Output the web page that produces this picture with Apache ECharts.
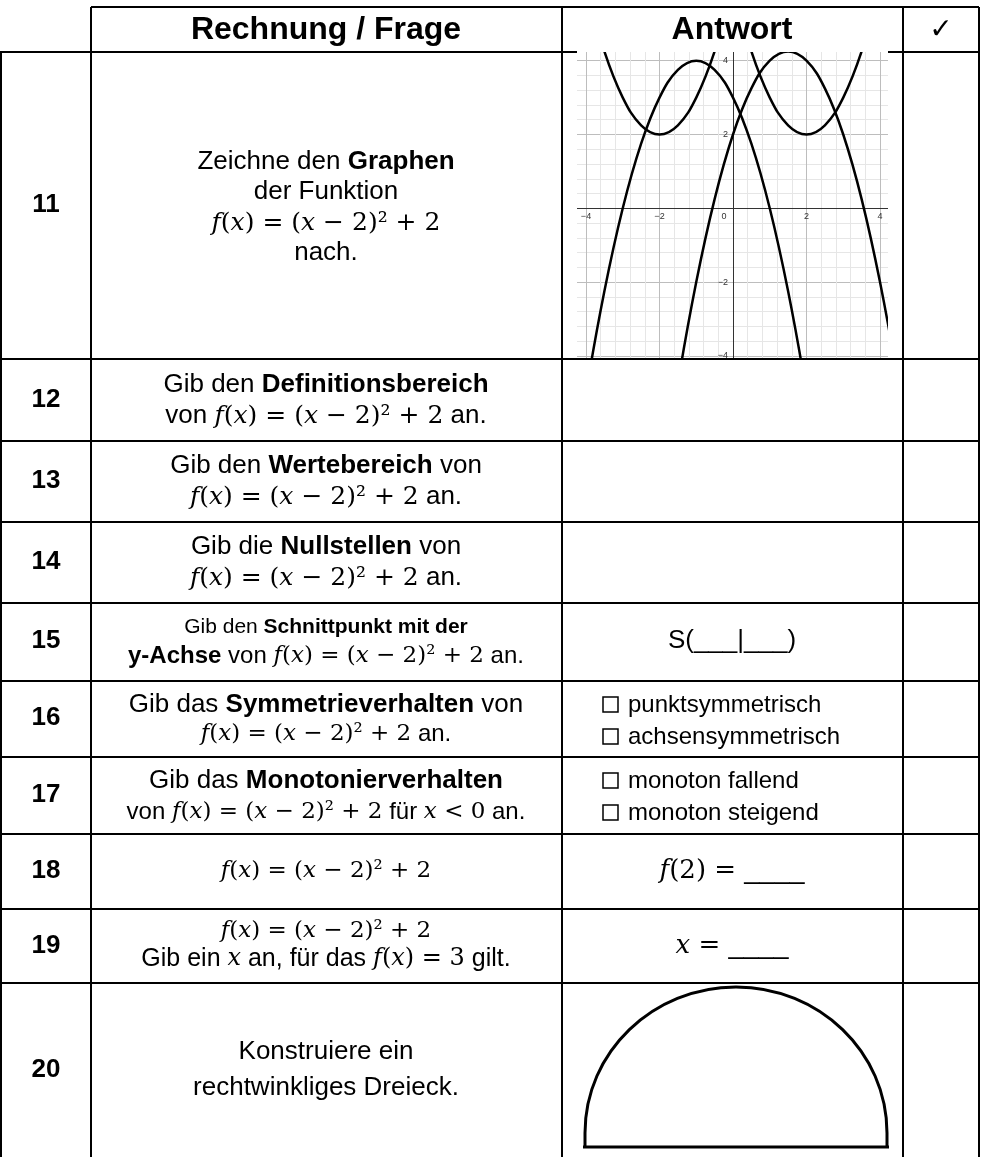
<!DOCTYPE html>
<html>
<head>
<meta charset="utf-8">
<script src="https://cdn.jsdelivr.net/npm/echarts@6/dist/echarts.min.js"></script>
<style>
html, body { margin: 0; padding: 0; background: #fff; }
#main { width: 986px; height: 1157px; }
</style>
</head>
<body>
<div id="main"></div>
<script>
// parabolas drawn in the answer cell of task 11
const xA = [-4, -3.5, -3, -2.5, -2, -1.5, -1, -0.5, 0]
const yA = [6, 4.25, 3, 2.25, 2, 2.25, 3, 4.25, 6]
const xB = [0, 0.5, 1, 1.5, 2, 2.5, 3, 3.5, 4]
const yB = [6, 4.25, 3, 2.25, 2, 2.25, 3, 4.25, 6]
const xC = [-4.5, -4, -3.5, -3, -2.5, -2, -1.5, -1, -0.5, 0, 0.5, 1, 1.5, 2, 2.5]
const yC = [-8.25, -5, -2.25, 0, 1.75, 3, 3.75, 4, 3.75, 3, 1.75, 0, -2.25, -5, -8.25]
const xD = [-2, -1.5, -1, -0.5, 0, 0.5, 1, 1.5, 2, 2.5, 3, 3.5, 4, 4.5, 5]
const yD = [-8, -4.75, -2, 0.25, 2, 3.25, 4, 4.25, 4, 3.25, 2, 0.25, -2, -4.75, -8]
const xLabels = [-4, -2, 0, 2, 4]
const yLabels = [-4, -2, 2, 4]

const rowNums = ['11', '12', '13', '14', '15', '16', '17', '18', '19', '20']

const SANS = '"Liberation Sans", Arial, sans-serif'
const SERIF = '"DejaVu Serif", serif'

// table geometry
const colX = [1, 91, 562, 903, 979]
const rowY = [7, 52, 359, 441, 522, 603, 681, 757, 834, 909, 983, 1157]
const numY = [205, 400, 481, 562, 641, 718, 795, 871, 946, 1070]

const F = '{i|f}{m|(}{i|x}{m|) = (}{i|x}{m| \u2212 2)\u00b2 + 2}'

function txt(x, y, text, size, extra) {
  const ms = Math.round(size * 0.96)
  return Object.assign({
    type: 'text',
    x: x,
    y: y,
    z: 100,
    style: {
      text: text,
      fontSize: size,
      fontFamily: SANS,
      fill: '#000',
      align: 'center',
      verticalAlign: 'middle',
      rich: {
        b: { fontSize: size, fontFamily: SANS, fontWeight: 'bold', fill: '#000' },
        i: { fontSize: ms, fontFamily: SERIF, fontStyle: 'italic', fill: '#000' },
        m: { fontSize: ms, fontFamily: SERIF, fill: '#000' }
      }
    }
  }, extra || {})
}

function hline(x1, x2, y, w) {
  return { type: 'line', z: 110, shape: { x1: x1, y1: y, x2: x2, y2: y }, style: { stroke: '#000', lineWidth: w || 2 } }
}
function vline(x, y1, y2, w) {
  return { type: 'line', z: 110, shape: { x1: x, y1: y1, x2: x, y2: y2 }, style: { stroke: '#000', lineWidth: w || 2 } }
}
function mask(x, y, w, h) {
  return { type: 'rect', z: 90, shape: { x: x, y: y, width: w, height: h }, style: { fill: '#fff' } }
}
function box(x, y) {
  return { type: 'rect', z: 100, shape: { x: x, y: y, width: 15, height: 15 }, style: { fill: 'none', stroke: '#000', lineWidth: 1.5 } }
}

const elements = []

// masks: the plot only fills part of its cell
elements.push(mask(563, 40, 14, 334))
elements.push(mask(888, 40, 14, 334))
elements.push(mask(563, 40, 339, 12))
elements.push(mask(563, 359, 339, 15))

// table lines
elements.push(hline(colX[1], colX[4], rowY[0]))
elements.push(hline(0, 577, rowY[1]))
elements.push(hline(888, colX[4], rowY[1]))
for (let i = 2; i < rowY.length - 1; i++) elements.push(hline(0, colX[4], rowY[i]))
elements.push(vline(colX[0], rowY[1], rowY[11]))
for (let i = 1; i < colX.length; i++) elements.push(vline(colX[i], rowY[0], rowY[11]))

// header
elements.push(txt(326, 30, '{b|Rechnung / Frage}', 32))
elements.push(txt(732, 30, '{b|Antwort}', 32))
const check = txt(941, 31, '\u2713', 28)
check.style.fontFamily = '"DejaVu Sans", sans-serif'
elements.push(check)

// row numbers
rowNums.forEach(function (n, i) {
  elements.push(txt(46, numY[i], '{b|' + n + '}', 26))
})

// question column
const C = 326
elements.push(txt(C, 162, 'Zeichne den {b|Graphen}', 26))
elements.push(txt(C, 192, 'der Funktion', 26))
elements.push(txt(C, 223, F, 26))
elements.push(txt(C, 253, 'nach.', 26))

elements.push(txt(C, 385, 'Gib den {b|Definitionsbereich}', 26))
elements.push(txt(C, 416, 'von ' + F + ' an.', 26))
elements.push(txt(C, 466, 'Gib den {b|Wertebereich} von', 26))
elements.push(txt(C, 497, F + ' an.', 26))
elements.push(txt(C, 547, 'Gib die {b|Nullstellen} von', 26))
elements.push(txt(C, 578, F + ' an.', 26))

elements.push(txt(C, 627, 'Gib den {b|Schnittpunkt mit der}', 21))
elements.push(txt(C, 656, '{b|y-Achse} von ' + F + ' an.', 24))
elements.push(txt(C, 705, 'Gib das {b|Symmetrieverhalten} von', 26))
elements.push(txt(C, 734, F + ' an.', 24))
elements.push(txt(C, 781, 'Gib das {b|Monotonierverhalten}', 26))
elements.push(txt(C, 812, 'von ' + F + ' f\u00fcr {i|x}{m| < 0} an.', 24))

elements.push(txt(C, 871, F, 24))
elements.push(txt(C, 931, F, 24))
elements.push(txt(C, 959, 'Gib ein {i|x} an, f\u00fcr das {i|f}{m|(}{i|x}{m|) = 3} gilt.', 25))

elements.push(txt(C, 1052, 'Konstruiere ein', 26))
elements.push(txt(C, 1088, 'rechtwinkliges Dreieck.', 26))

// answer column
elements.push(txt(732, 641, 'S(___|___)', 26))
const opts = [['punktsymmetrisch', 705], ['achsensymmetrisch', 737], ['monoton fallend', 781], ['monoton steigend', 813]]
opts.forEach(function (o) {
  elements.push(box(603, o[1] - 8))
  const t = txt(628, o[1], o[0], 24)
  t.style.align = 'left'
  elements.push(t)
})
elements.push(txt(732, 871, '{i|f}{m|(2) = }____', 27))
elements.push(txt(732, 946, '{i|x}{m| = }____', 27))

// half-round shape in task 20
const sw = { stroke: '#000', lineWidth: 3, fill: 'none' }
elements.push({ type: 'bezierCurve', z: 100, shape: { x1: 585, y1: 1133, x2: 736, y2: 987, cpx1: 585, cpy1: 1052, cpx2: 653, cpy2: 987 }, style: sw })
elements.push({ type: 'bezierCurve', z: 100, shape: { x1: 736, y1: 987, x2: 887, y2: 1133, cpx1: 819, cpy1: 987, cpx2: 887, cpy2: 1052 }, style: sw })
elements.push({ type: 'line', z: 100, shape: { x1: 585, y1: 1133, x2: 585, y2: 1147 }, style: sw })
elements.push({ type: 'line', z: 100, shape: { x1: 887, y1: 1133, x2: 887, y2: 1147 }, style: sw })
elements.push({ type: 'line', z: 100, shape: { x1: 583, y1: 1147, x2: 889, y2: 1147 }, style: sw })

function pairs(xs, ys) {
  return xs.map(function (x, i) { return [x, ys[i]] })
}

const minorC = '#e6e6e6'
const majorC = '#bdbdbd'

// plot grid: 36.75 px per x unit, 36.9 px per y unit, origin at (733, 208.3)
const gLeft = 571.3
const gTop = 45.94
const gW = 323.4
const gH = 324.72

const chart = echarts.init(document.getElementById('main'), null, { renderer: 'canvas' })
chart.setOption({
  animation: false,
  backgroundColor: '#fff',
  grid: { left: gLeft, top: gTop, width: gW, height: gH },
  xAxis: {
    type: 'value', min: -4.4, max: 4.4, interval: 0.4,
    offset: -(gTop + gH - 208.3),
    axisLine: { onZero: false, lineStyle: { color: '#333', width: 1 } },
    axisTick: { show: false },
    axisLabel: {
      fontSize: 9, color: '#333', margin: 4, fontFamily: SANS,
      formatter: function (v) {
        const r = Math.round(v * 10) / 10
        if (xLabels.indexOf(r) < 0) return ''
        if (r === 0) return '{z|0}'
        return r < 0 ? '\u2212' + (-r) : String(r)
      },
      rich: { z: { fontSize: 9, color: '#333', padding: [0, 18, 0, 0] } }
    },
    splitLine: { lineStyle: { color: [minorC, majorC, minorC, minorC, minorC], width: 1 } }
  },
  yAxis: {
    type: 'value', min: -4.4, max: 4.4, interval: 0.4,
    offset: -(733 - gLeft),
    axisLine: { onZero: false, lineStyle: { color: '#333', width: 1 } },
    axisTick: { show: false },
    axisLabel: {
      fontSize: 9, color: '#333', margin: 5, fontFamily: SANS,
      formatter: function (v) {
        const r = Math.round(v * 10) / 10
        if (yLabels.indexOf(r) < 0) return ''
        return r < 0 ? '\u2212' + (-r) : String(r)
      }
    },
    splitLine: { lineStyle: { color: [minorC, majorC, minorC, minorC, minorC], width: 1 } }
  },
  series: [
    { type: 'line', data: pairs(xA, yA), smooth: 0.4, symbol: 'none', clip: true, lineStyle: { color: '#000', width: 2.5 } },
    { type: 'line', data: pairs(xB, yB), smooth: 0.4, symbol: 'none', clip: true, lineStyle: { color: '#000', width: 2.5 } },
    { type: 'line', data: pairs(xC, yC), smooth: 0.4, symbol: 'none', clip: true, lineStyle: { color: '#000', width: 2.5 } },
    { type: 'line', data: pairs(xD, yD), smooth: 0.4, symbol: 'none', clip: true, lineStyle: { color: '#000', width: 2.5 } }
  ],
  graphic: { elements: elements }
})
</script>
</body>
</html>
